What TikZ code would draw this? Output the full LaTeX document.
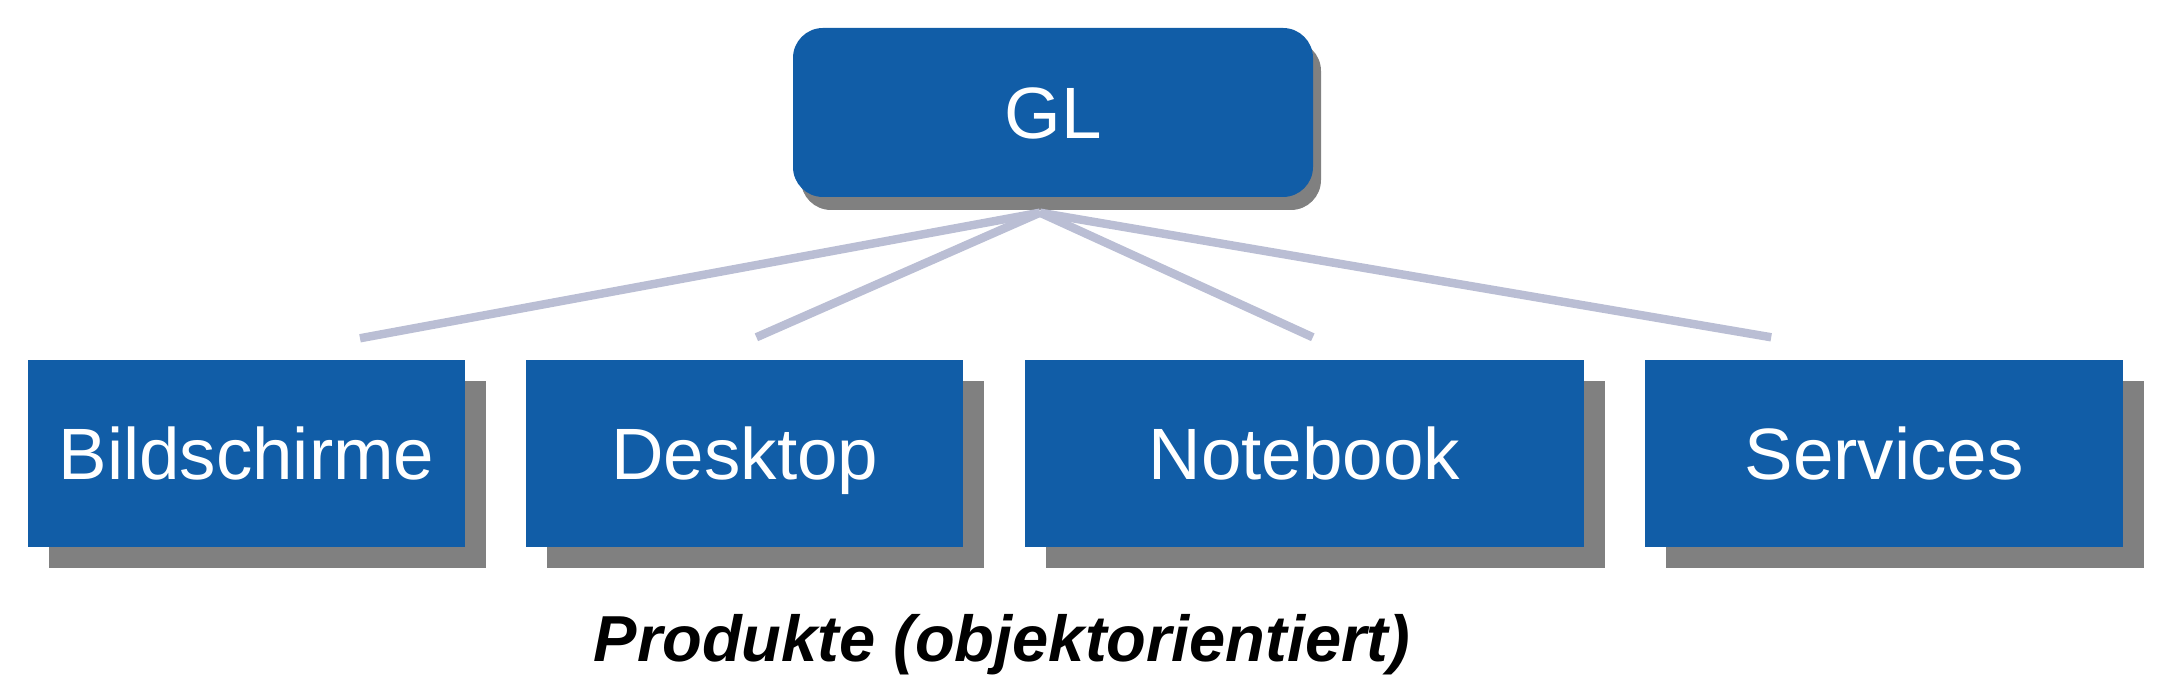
\documentclass[tikz,border=0pt]{standalone}
\usepackage{fontspec}
\setmainfont{Liberation Sans}
\usetikzlibrary{positioning,shadows}
\definecolor{boxblue}{RGB}{17,93,167}
\definecolor{shadegray}{RGB}{128,128,128}
\definecolor{linkgray}{RGB}{186,190,212}

\begin{document}
\begin{tikzpicture}[node distance=0.6cm,
    bluebox/.style={rectangle, fill=boxblue, text=white, inner sep=0pt,
        text height=0.52cm, text depth=0pt, font=\fontsize{20.7}{24}\selectfont},
    unit/.style={bluebox, minimum height=1.87cm,
        drop shadow={shadow xshift=0.21cm, shadow yshift=-0.21cm, fill=shadegray, opacity=1}},
    head/.style={bluebox, rounded corners=0.3cm, minimum width=5.2cm, minimum height=1.69cm,
        drop shadow={shadow xshift=0.08cm, shadow yshift=-0.13cm, fill=shadegray, opacity=1}},
    link/.style={draw=linkgray, line width=2.4pt}]
    \useasboundingbox (0,0) rectangle (21.75,6.88);

    \node[head] (gl) at (10.53,5.755) {GL};
    \node[unit, minimum width=4.37cm] (bild) at (2.465,2.345) {Bildschirme};
    \node[unit, minimum width=4.37cm, right=of bild] (desk) {Desktop};
    \node[unit, minimum width=5.59cm, right=of desk] (note) {Notebook};
    \node[unit, minimum width=4.78cm, right=of note] (serv) {Services};
    \node[anchor=base, font=\fontsize{18.5}{22}\selectfont\bfseries\itshape] (caption) at (10.02,0.26) {Produkte (objektorientiert)};

    \coordinate (hub) at ([xshift=-0.13cm, yshift=-0.15cm]gl.south);
    \draw[link] (hub) -- ([xshift=1.135cm, yshift=0.21cm]bild.north);
    \draw[link] (hub) -- ([xshift=0.115cm, yshift=0.22cm]desk.north);
    \draw[link] (hub) -- ([xshift=0.085cm, yshift=0.22cm]note.north);
    \draw[link] (hub) -- ([xshift=-1.13cm, yshift=0.22cm]serv.north);
\end{tikzpicture}
\end{document}
